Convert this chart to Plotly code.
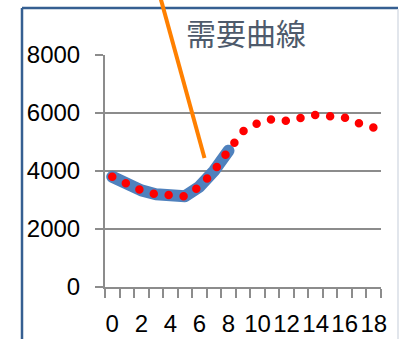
import plotly.graph_objects as go

# Demand data: x categories 0..18
categories = [str(i) for i in range(19)]
demand = [3800, 3550, 3330, 3200, 3130, 3130, 3460, 4000, 4700, 5370,
          5650, 5790, 5730, 5840, 5930, 5890, 5840, 5640, 5500]
# highlighted segment (first nine points)
highlight_count = 9
x_tick_labels = [c if i % 2 == 0 else "" for i, c in enumerate(categories)]
y_ticks = [0, 2000, 4000, 6000, 8000]

W, H = 399, 339
L, R, T, B = 105, 18, 55, 52
PW, PH = W - L - R, H - T - B


def px_x(px):
    return (px - L) / PW


def px_y(py):
    return (H - B - py) / PH


fig = go.Figure()

fig.add_trace(go.Scatter(
    x=categories[:highlight_count], y=demand[:highlight_count],
    mode="lines", line=dict(color="#4F81BD", width=12),
    hoverinfo="skip", showlegend=False,
))
fig.add_trace(go.Scatter(
    x=categories, y=demand,
    mode="lines", line=dict(color="#FF0000", width=8.5, dash="0px,15px"),
    showlegend=False,
))

axis_grey = "#8C8C8C"
tick_font = dict(family="Liberation Sans", size=24, color="#000000")

fig.update_layout(
    width=W, height=H,
    margin=dict(l=L, r=R, t=T, b=B, pad=0, autoexpand=False),
    paper_bgcolor="white", plot_bgcolor="white",
    title=dict(
        text="需要曲線", xref="container", yref="container",
        x=246 / W, y=1 - 34 / H, xanchor="center", yanchor="middle",
        font=dict(family="Noto Sans CJK JP", size=30, color="#4E5A6B"),
    ),
    xaxis=dict(
        type="category", categoryorder="array", categoryarray=categories,
        tickmode="array", tickvals=categories, ticktext=x_tick_labels,
        tickson="boundaries", ticks="outside", ticklen=9, tickwidth=2,
        tickcolor=axis_grey, showline=True, linecolor=axis_grey, linewidth=2,
        showgrid=False, tickangle=0, tickfont=tick_font,
        ticklabelstandoff=14, automargin=False,
        range=[-0.5, 18.5], fixedrange=True,
    ),
    yaxis=dict(
        range=[0, 8000], tickmode="array", tickvals=y_ticks,
        ticks="outside", ticklen=8, tickwidth=2, tickcolor=axis_grey,
        showline=True, linecolor=axis_grey, linewidth=2,
        showgrid=True, gridcolor=axis_grey, gridwidth=2,
        zeroline=False, tickfont=tick_font, fixedrange=True,
        ticklabelstandoff=10, automargin=False,
    ),
    shapes=[
        # chart area frame
        dict(type="line", xref="paper", yref="paper",
             x0=px_x(22), x1=px_x(22), y0=px_y(8), y1=px_y(345),
             line=dict(color="#365F91", width=2.5)),
        dict(type="line", xref="paper", yref="paper",
             x0=px_x(22), x1=px_x(398), y0=px_y(8), y1=px_y(8),
             line=dict(color="#365F91", width=2.5)),
        dict(type="line", xref="paper", yref="paper",
             x0=px_x(398), x1=px_x(398), y0=px_y(9), y1=px_y(345),
             line=dict(color="#D9DEE6", width=1.5)),
        # orange pointer line
        dict(type="line", xref="paper", yref="paper",
             x0=px_x(160.5), x1=px_x(204.5), y0=px_y(-2), y1=px_y(158),
             line=dict(color="#FF8000", width=4)),
    ],
)

# Round line caps; the red dotted line gets evenly spaced round dots
# so that one dot sits on each end of the path.
round_caps = """
var gd = document.getElementById('{plot_id}');
var lines = gd.querySelectorAll('.scatterlayer .js-line');
lines.forEach(function(p){
  p.style.strokeLinecap = 'round';
  p.style.strokeLinejoin = 'round';
});
var dotted = lines[lines.length - 1];
var len = dotted.getTotalLength();
var n = Math.max(1, Math.round(len / 15));
var step = len / n - 0.02;
dotted.style.strokeDasharray = '0px,' + step + 'px';
"""

fig.write_html("out.html", post_script=round_caps)
